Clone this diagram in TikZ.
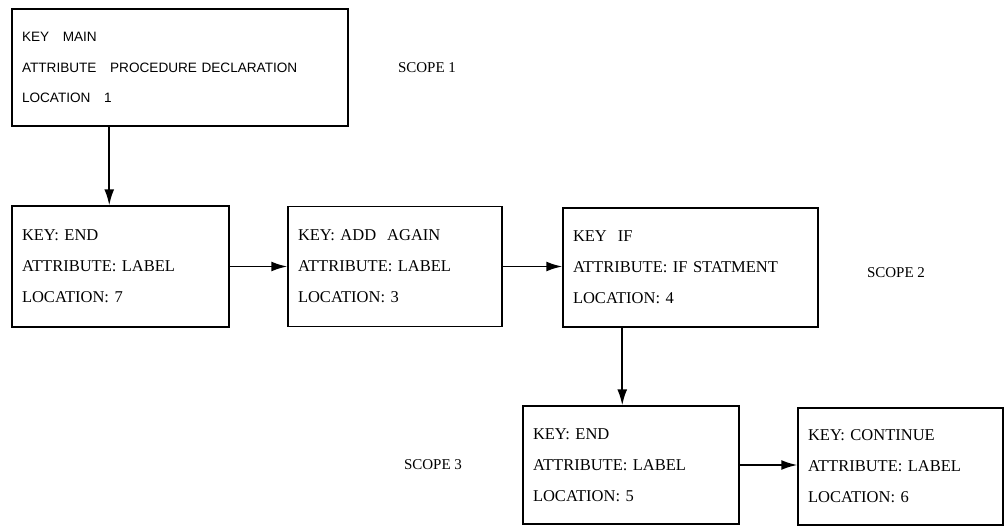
\documentclass[tikz,border=0pt]{standalone}
\usepackage{fontspec}
\setmainfont{Liberation Serif}
\newfontfamily\boxsans{Liberation Sans}
\usetikzlibrary{arrows.meta}

\begin{document}
\begin{tikzpicture}[x=1pt,y=1pt,yscale=-1,
		symbox/.style={draw, line width=1.5pt, align=left, inner xsep=10pt, inner ysep=0pt, font=\fontsize{16.5}{31}\selectfont},
		scopelbl/.style={font=\fontsize{15}{18}\selectfont},
		arr/.style={line width=1.8pt, -{Latex[length=16pt,width=10pt]}}]
		\useasboundingbox (0,0) rectangle (1005,527);
		\node[symbox, text width=316pt, minimum height=117pt, font=\boxsans\fontsize{13.6}{30.5}\selectfont] (main) at (180,67.5) {KEY\ \ \ MAIN\\ATTRIBUTE\ \ \ PROCEDURE DECLARATION\\LOCATION\ \ \ 1};
		\node[symbox, text width=197pt, minimum height=121pt] (endseven) at (120.5,266.5) {KEY: END\\ATTRIBUTE: LABEL\\LOCATION: 7};
		\node[symbox, text width=194pt, minimum height=120pt] (addagain) at (395,266.5) {KEY: ADD\ \ AGAIN\\ATTRIBUTE: LABEL\\LOCATION: 3};
		\node[symbox, text width=235pt, minimum height=119pt] (ifstmt) at (690.5,267.5) {KEY\ \ IF\\ATTRIBUTE: IF STATMENT\\LOCATION: 4};
		\node[symbox, text width=196pt, minimum height=118pt] (endfive) at (631,465) {KEY: END\\ATTRIBUTE: LABEL\\LOCATION: 5};
		\node[symbox, text width=185pt, minimum height=117pt] (contin) at (900.5,466.5) {KEY: CONTINUE\\ATTRIBUTE: LABEL\\LOCATION: 6};
		\node[scopelbl] (scopeone) at (427,68) {SCOPE 1};
		\node[scopelbl] (scopetwo) at (896,273) {SCOPE 2};
		\node[scopelbl] (scopethree) at (433,465) {SCOPE 3};
		\draw[arr] ([xshift=98pt]main.south west) -- ([xshift=98pt]endseven.north west);
		\draw[arr] (endseven.east) -- (endseven.east -| addagain.west);
		\draw[arr] (addagain.east) -- (addagain.east -| ifstmt.west);
		\draw[arr] ([xshift=60pt]ifstmt.south west) -- ([xshift=60pt]ifstmt.south west |- endfive.north);
		\draw[arr] (endfive.east) -- (endfive.east -| contin.west);
\end{tikzpicture}
\end{document}
